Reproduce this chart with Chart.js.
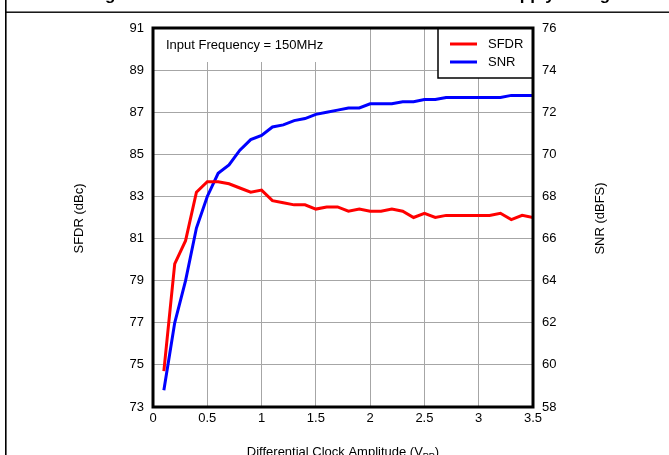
<!DOCTYPE html>
<html>
<head>
<meta charset="utf-8">
<script src="https://cdn.jsdelivr.net/npm/chart.js@4/dist/chart.umd.min.js"></script>
<style>
  html, body { margin: 0; padding: 0; background: #fff; }
  #wrap { width: 669px; height: 455px; position: relative; }
</style>
</head>
<body>
<div id="wrap"><canvas id="c" width="669" height="455"></canvas></div>
<script>
// ---- data ----
const clockAmplitude = [0.1,0.2,0.3,0.4,0.5,0.6,0.7,0.8,0.9,1.0,1.1,1.2,1.3,1.4,1.5,1.6,1.7,1.8,1.9,2.0,2.1,2.2,2.3,2.4,2.5,2.6,2.7,2.8,2.9,3.0,3.1,3.2,3.3,3.4,3.5];
const sfdrValues = [74.7,79.8,80.9,83.2,83.7,83.7,83.6,83.4,83.2,83.3,82.8,82.7,82.6,82.6,82.4,82.5,82.5,82.3,82.4,82.3,82.3,82.4,82.3,82.0,82.2,82.0,82.1,82.1,82.1,82.1,82.1,82.2,81.9,82.1,82.0];
const snrValues = [58.8,62.0,64.0,66.5,68.0,69.1,69.5,70.2,70.7,70.9,71.3,71.4,71.6,71.7,71.9,72.0,72.1,72.2,72.2,72.4,72.4,72.4,72.5,72.5,72.6,72.6,72.7,72.7,72.7,72.7,72.7,72.7,72.8,72.8,72.8];
const xTickLabels = ['0','0.5','1','1.5','2','2.5','3','3.5'];
const sfdrTickLabels = ['73','75','77','79','81','83','85','87','89','91'];
const snrTickLabels = ['58','60','62','64','66','68','70','72','74','76'];
const seriesNames = ['SFDR','SNR'];
const chartTitle = 'Figure 36. Performance vs Clock Level at Nominal Supply Voltage';
const annotationText = 'Input Frequency = 150MHz';
const xTitle = 'Differential Clock Amplitude (V';
const xTitleSub = 'PP';
const yLeftTitle = 'SFDR (dBc)';
const yRightTitle = 'SNR (dBFS)';

const FONT = '"Liberation Sans", Arial, sans-serif';

const decorPlugin = {
  id: 'decor',
  beforeDraw(chart) {
    const ctx = chart.ctx;
    ctx.save();
    ctx.fillStyle = '#fff';
    ctx.fillRect(0, 0, chart.width, chart.height);
    ctx.restore();
  },
  afterDraw(chart) {
    const ctx = chart.ctx;
    const a = chart.chartArea;
    ctx.save();
    // annotation white patch + text
    ctx.fillStyle = '#fff';
    ctx.fillRect(a.left + 1, a.top + 1, 192, 33);
    ctx.fillStyle = '#000';
    ctx.font = '13px ' + FONT;
    ctx.textBaseline = 'middle';
    ctx.textAlign = 'left';
    ctx.fillText(annotationText, a.left + 13, a.top + 17);

    // legend box
    const lx = a.right - 95, ly = a.top, lw = 95, lh = 50;
    ctx.fillStyle = '#fff';
    ctx.fillRect(lx, ly, lw, lh);
    ctx.strokeStyle = '#000';
    ctx.lineWidth = 1.5;
    ctx.strokeRect(lx, ly, lw, lh);
    chart.data.datasets.forEach((ds, i) => {
      const y = ly + 16 + i * 18;
      ctx.strokeStyle = ds.borderColor;
      ctx.lineWidth = 3;
      ctx.beginPath();
      ctx.moveTo(lx + 12, y);
      ctx.lineTo(lx + 39, y);
      ctx.stroke();
      ctx.fillStyle = '#000';
      ctx.font = '13px ' + FONT;
      ctx.textBaseline = 'middle';
      ctx.fillText(ds.label, lx + 50, y + 0.5);
    });

    // plot frame
    ctx.strokeStyle = '#000';
    ctx.lineWidth = 3;
    ctx.strokeRect(a.left, a.top, a.right - a.left, a.bottom - a.top);

    // y titles (both read bottom-to-top)
    const cy = (a.top + a.bottom) / 2 + 1;
    ctx.fillStyle = '#000';
    ctx.font = '13px ' + FONT;
    ctx.textAlign = 'center';
    ctx.textBaseline = 'middle';
    ctx.save();
    ctx.translate(79, cy);
    ctx.rotate(-Math.PI / 2);
    ctx.fillText(yLeftTitle, 0, 0);
    ctx.restore();
    ctx.save();
    ctx.translate(600, cy);
    ctx.rotate(-Math.PI / 2);
    ctx.fillText(yRightTitle, 0, 0);
    ctx.restore();

    // x title with subscript
    ctx.textAlign = 'left';
    ctx.textBaseline = 'alphabetic';
    ctx.font = '13px ' + FONT;
    const w1 = ctx.measureText(xTitle).width;
    ctx.font = '9px ' + FONT;
    const w2 = ctx.measureText(xTitleSub).width;
    ctx.font = '13px ' + FONT;
    const w3 = ctx.measureText(')').width;
    const total = w1 + w2 + w3;
    let tx = (a.left + a.right) / 2 - total / 2;
    const by = 455.5;
    ctx.fillText(xTitle, tx, by);
    ctx.font = '9px ' + FONT;
    ctx.fillText(xTitleSub, tx + w1, by + 3);
    ctx.font = '13px ' + FONT;
    ctx.fillText(')', tx + w1 + w2, by);

    // clipped page title (only descenders remain visible)
    ctx.font = 'bold 17px ' + FONT;
    ctx.fillText(chartTitle, 90, 0);

    // outer frame lines
    ctx.fillStyle = '#000';
    ctx.fillRect(5, 0, 1.6, chart.height);
    ctx.fillRect(5, 11.5, chart.width - 5, 1.4);
    ctx.restore();
  }
};

const tickFont = { family: FONT, size: 13 };

new Chart(document.getElementById('c'), {
  type: 'line',
  data: {
    datasets: [
      {
        label: seriesNames[0],
        data: clockAmplitude.map((x, i) => ({ x, y: sfdrValues[i] })),
        borderColor: '#ff0000',
        backgroundColor: '#ff0000',
        borderWidth: 3,
        pointRadius: 0,
        tension: 0,
        yAxisID: 'y'
      },
      {
        label: seriesNames[1],
        data: clockAmplitude.map((x, i) => ({ x, y: snrValues[i] })),
        borderColor: '#0000ff',
        backgroundColor: '#0000ff',
        borderWidth: 3,
        pointRadius: 0,
        tension: 0,
        yAxisID: 'y2'
      }
    ]
  },
  options: {
    responsive: false,
    animation: false,
    devicePixelRatio: 1,
    layout: { padding: { top: 28, left: 0, right: 0, bottom: 0 } },
    plugins: { legend: { display: false }, tooltip: { enabled: false }, title: { display: false } },
    scales: {
      x: {
        type: 'linear',
        min: 0, max: 3.5,
        afterFit(s) { s.height = 48; },
        afterBuildTicks(s) { s.ticks = xTickLabels.map(t => ({ value: parseFloat(t) })); },
        ticks: {
          font: tickFont, color: '#000', padding: 4, maxRotation: 0, autoSkip: false,
          callback: (v, i) => xTickLabels[i]
        },
        grid: { color: '#a6a6a6', lineWidth: 1, drawTicks: false },
        border: { display: false }
      },
      y: {
        position: 'left',
        min: 73, max: 91,
        afterFit(s) { s.width = 153; },
        afterBuildTicks(s) { s.ticks = sfdrTickLabels.map(t => ({ value: parseFloat(t) })); },
        ticks: {
          font: tickFont, color: '#000', padding: 9, autoSkip: false,
          callback: (v, i) => sfdrTickLabels[i]
        },
        grid: { color: '#a6a6a6', lineWidth: 1, drawTicks: false },
        border: { display: false }
      },
      y2: {
        position: 'right',
        min: 58, max: 76,
        afterFit(s) { s.width = 136; },
        afterBuildTicks(s) { s.ticks = snrTickLabels.map(t => ({ value: parseFloat(t) })); },
        ticks: {
          font: tickFont, color: '#000', padding: 9, autoSkip: false,
          callback: (v, i) => snrTickLabels[i]
        },
        grid: { drawOnChartArea: false, drawTicks: false },
        border: { display: false }
      }
    }
  },
  plugins: [decorPlugin]
});
</script>
</body>
</html>
